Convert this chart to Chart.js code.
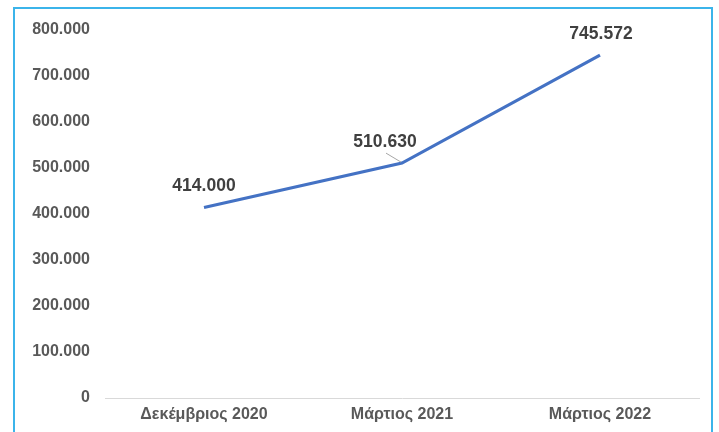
<!DOCTYPE html>
<html>
<head>
<meta charset="utf-8">
<script src="https://cdn.jsdelivr.net/npm/chart.js@4"></script>
<style>
  html, body { margin: 0; padding: 0; background: #fff; overflow: hidden; }
  #wrap { position: relative; width: 719px; height: 432px; }
  #frame { position: absolute; left: 13px; top: 7px; width: 696px; height: 440px;
           border: 2px solid #3BB4EA; pointer-events: none; }
</style>
</head>
<body>
<div id="wrap">
  <canvas id="myChart" width="719" height="432"></canvas>
  <div id="frame"></div>
</div>
<script>
var categories = ['Δεκέμβριος 2020', 'Μάρτιος 2021', 'Μάρτιος 2022'];
var values = [414000, 510630, 745572];
var yTicks = [0, 100000, 200000, 300000, 400000, 500000, 600000, 700000, 800000];

function fmt(v) {
    return v === 0 ? '0' : v.toLocaleString('de-DE');
}

// draws the value labels above each point (middle one with a leader line)
var valueLabels = {
    id: 'valueLabels',
    afterDatasetsDraw: function(chart) {
        var ctx = chart.ctx;
        var pts = chart.getDatasetMeta(0).data;
        ctx.save();
        ctx.font = 'bold 17.5px "Liberation Sans", Arial, sans-serif';
        ctx.fillStyle = '#404040';
        ctx.textAlign = 'center';
        ctx.textBaseline = 'middle';
        pts.forEach(function(p, i) {
            var txt = fmt(values[i]);
            if (i === 1) {
                ctx.fillText(txt, p.x - 17, p.y - 21);
                ctx.strokeStyle = '#A6A6A6';
                ctx.lineWidth = 1;
                ctx.beginPath();
                ctx.moveTo(p.x - 16, p.y - 10);
                ctx.lineTo(p.x - 1, p.y - 1);
                ctx.stroke();
            } else {
                ctx.fillText(txt, p.x + (i === 2 ? 1 : 0), p.y - 21);
            }
        });
        ctx.restore();
    }
};

var ctx = document.getElementById('myChart').getContext('2d');
var chart = new Chart(ctx, {
    type: 'line',
    data: {
        labels: categories,
        datasets: [{
            data: values,
            borderColor: '#4472C4',
            borderWidth: 3.2,
            pointRadius: 0,
            tension: 0,
            fill: false
        }]
    },
    options: {
        responsive: false,
        animation: false,
        layout: { padding: { top: 30, right: 20, left: 0, bottom: 0 } },
        plugins: {
            legend: { display: false },
            tooltip: { enabled: false }
        },
        scales: {
            x: {
                offset: true,
                grid: { display: false, drawTicks: false },
                border: { display: true, color: '#D9D9D9', width: 1 },
                ticks: {
                    color: '#595959',
                    padding: 7,
                    font: { family: '"Liberation Sans", Arial, sans-serif', size: 16, weight: 'bold' }
                },
                afterFit: function(s) { s.height = 34; }
            },
            y: {
                min: 0,
                max: 800000,
                grid: { display: false, drawTicks: false },
                border: { display: false },
                afterBuildTicks: function(s) {
                    s.ticks = yTicks.map(function(v) { return { value: v }; });
                },
                ticks: {
                    color: '#595959',
                    padding: 15,
                    font: { family: '"Liberation Sans", Arial, sans-serif', size: 16, weight: 'bold' },
                    callback: function(v) { return fmt(v); }
                },
                afterFit: function(s) { s.width = 105; }
            }
        }
    },
    plugins: [valueLabels]
});
</script>
</body>
</html>
